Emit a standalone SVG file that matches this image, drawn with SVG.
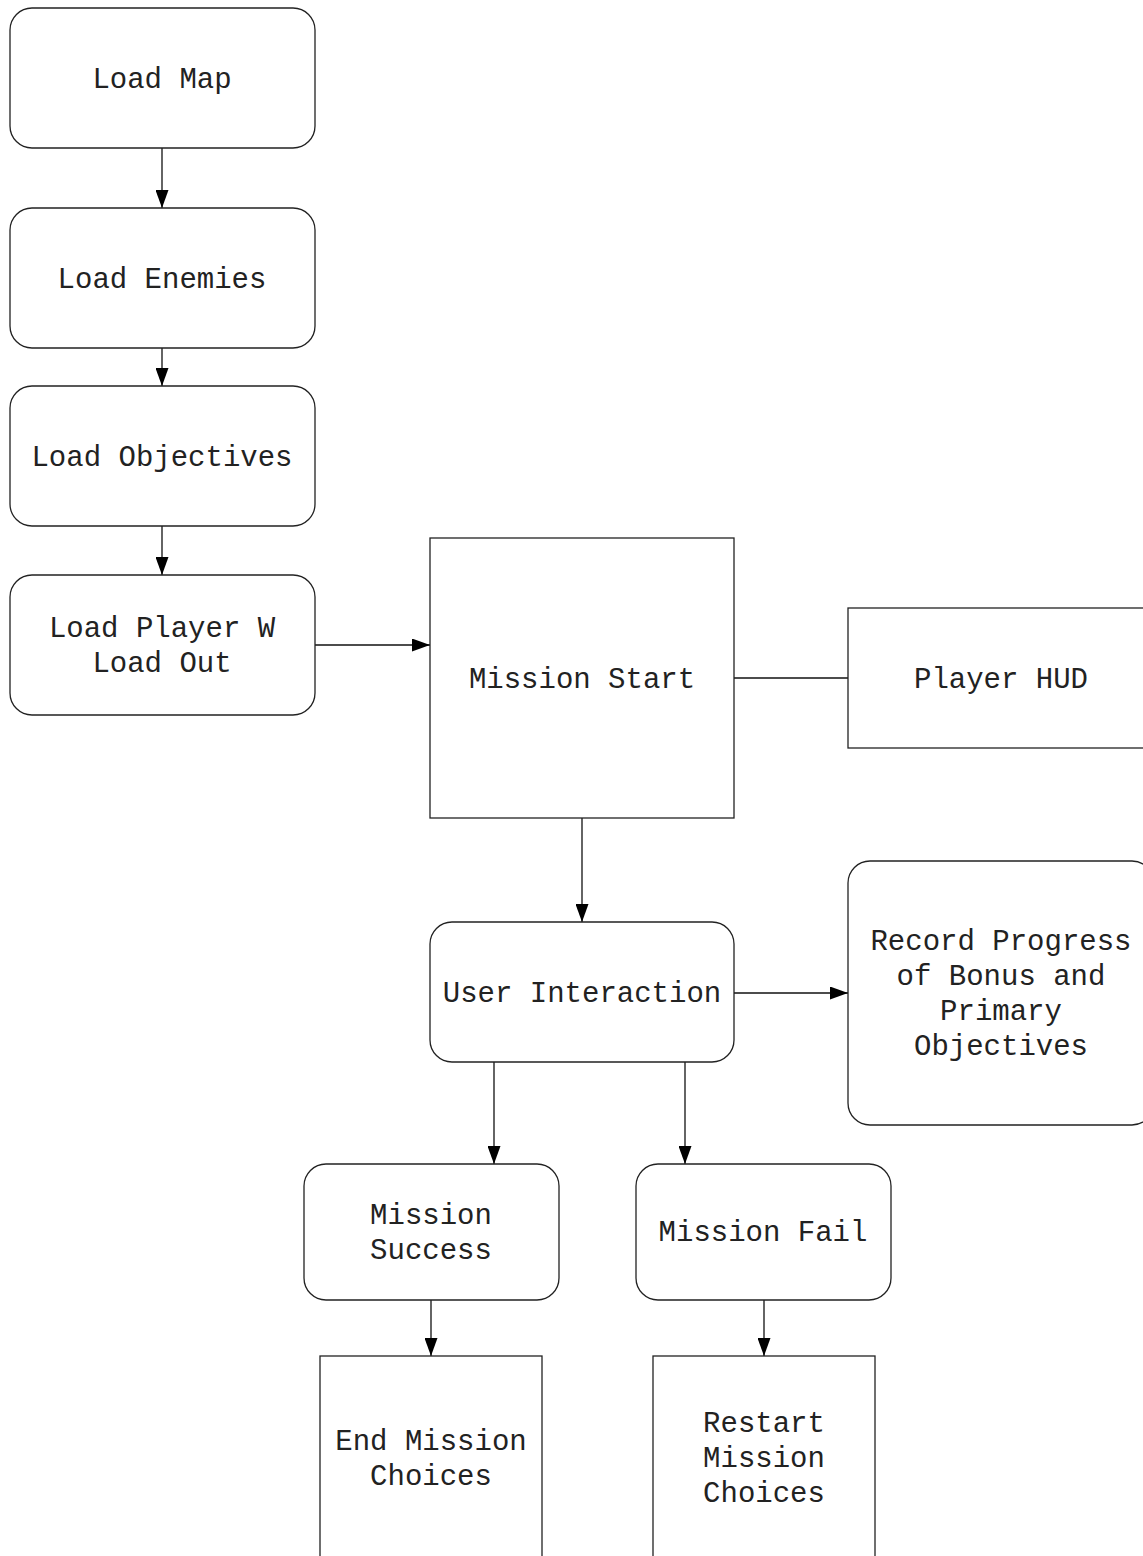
<svg xmlns="http://www.w3.org/2000/svg" width="1143" height="1556" viewBox="0 0 1143 1556">
  <style>
    .box { fill: #fff; stroke: #222; stroke-width: 1.3; }
    .lbl { font-family: "Liberation Mono", "Courier New", monospace; font-size: 29px; fill: #222; text-anchor: middle; }
    .edge { fill: none; stroke: #111; stroke-width: 1.3; }
  </style>
  <defs>
    <marker id="arrow" viewBox="0 0 18 13" refX="18" refY="6.5" markerWidth="18" markerHeight="13" markerUnits="userSpaceOnUse" orient="auto">
      <path d="M0,0 L18,6.5 L0,13 Z" fill="#000"/>
    </marker>
  </defs>
  <rect width="1143" height="1556" fill="#fff"/>

  <g id="connectors">
    <line class="edge" x1="162" y1="148" x2="162" y2="208" marker-end="url(#arrow)"/>
    <line class="edge" x1="162" y1="348" x2="162" y2="386" marker-end="url(#arrow)"/>
    <line class="edge" x1="162" y1="526" x2="162" y2="575" marker-end="url(#arrow)"/>
    <line class="edge" x1="315" y1="645" x2="430" y2="645" marker-end="url(#arrow)"/>
    <line class="edge" x1="734" y1="678" x2="848" y2="678"/>
    <line class="edge" x1="582" y1="818" x2="582" y2="922" marker-end="url(#arrow)"/>
    <line class="edge" x1="734" y1="993" x2="848" y2="993" marker-end="url(#arrow)"/>
    <line class="edge" x1="494" y1="1062" x2="494" y2="1164" marker-end="url(#arrow)"/>
    <line class="edge" x1="685" y1="1062" x2="685" y2="1164" marker-end="url(#arrow)"/>
    <line class="edge" x1="431" y1="1300" x2="431" y2="1356" marker-end="url(#arrow)"/>
    <line class="edge" x1="764" y1="1300" x2="764" y2="1356" marker-end="url(#arrow)"/>
  </g>

  <g id="load-map">
    <rect class="box" x="10" y="8" width="305" height="140" rx="22"/>
    <text class="lbl" x="162" y="88">Load Map</text>
  </g>
  <g id="load-enemies">
    <rect class="box" x="10" y="208" width="305" height="140" rx="22"/>
    <text class="lbl" x="162" y="288">Load Enemies</text>
  </g>
  <g id="load-objectives">
    <rect class="box" x="10" y="386" width="305" height="140" rx="22"/>
    <text class="lbl" x="162" y="466">Load Objectives</text>
  </g>
  <g id="load-player">
    <rect class="box" x="10" y="575" width="305" height="140" rx="22"/>
    <text class="lbl" x="162" y="637">Load Player W</text>
    <text class="lbl" x="162" y="672">Load Out</text>
  </g>
  <g id="mission-start">
    <rect class="box" x="430" y="538" width="304" height="280"/>
    <text class="lbl" x="582" y="688">Mission Start</text>
  </g>
  <g id="player-hud">
    <rect class="box" x="848" y="608" width="306" height="140"/>
    <text class="lbl" x="1001" y="688">Player HUD</text>
  </g>
  <g id="user-interaction">
    <rect class="box" x="430" y="922" width="304" height="140" rx="22"/>
    <text class="lbl" x="582" y="1002">User Interaction</text>
  </g>
  <g id="record-progress">
    <rect class="box" x="848" y="861" width="306" height="264" rx="22"/>
    <text class="lbl" x="1001" y="950">Record Progress</text>
    <text class="lbl" x="1001" y="985">of Bonus and</text>
    <text class="lbl" x="1001" y="1020">Primary</text>
    <text class="lbl" x="1001" y="1055">Objectives</text>
  </g>
  <g id="mission-success">
    <rect class="box" x="304" y="1164" width="255" height="136" rx="22"/>
    <text class="lbl" x="431" y="1224">Mission</text>
    <text class="lbl" x="431" y="1259">Success</text>
  </g>
  <g id="mission-fail">
    <rect class="box" x="636" y="1164" width="255" height="136" rx="22"/>
    <text class="lbl" x="763" y="1241">Mission Fail</text>
  </g>
  <g id="end-mission-choices">
    <rect class="box" x="320" y="1356" width="222" height="210"/>
    <text class="lbl" x="431" y="1450">End Mission</text>
    <text class="lbl" x="431" y="1485">Choices</text>
  </g>
  <g id="restart-mission-choices">
    <rect class="box" x="653" y="1356" width="222" height="210"/>
    <text class="lbl" x="764" y="1432">Restart</text>
    <text class="lbl" x="764" y="1467">Mission</text>
    <text class="lbl" x="764" y="1502">Choices</text>
  </g>
</svg>
